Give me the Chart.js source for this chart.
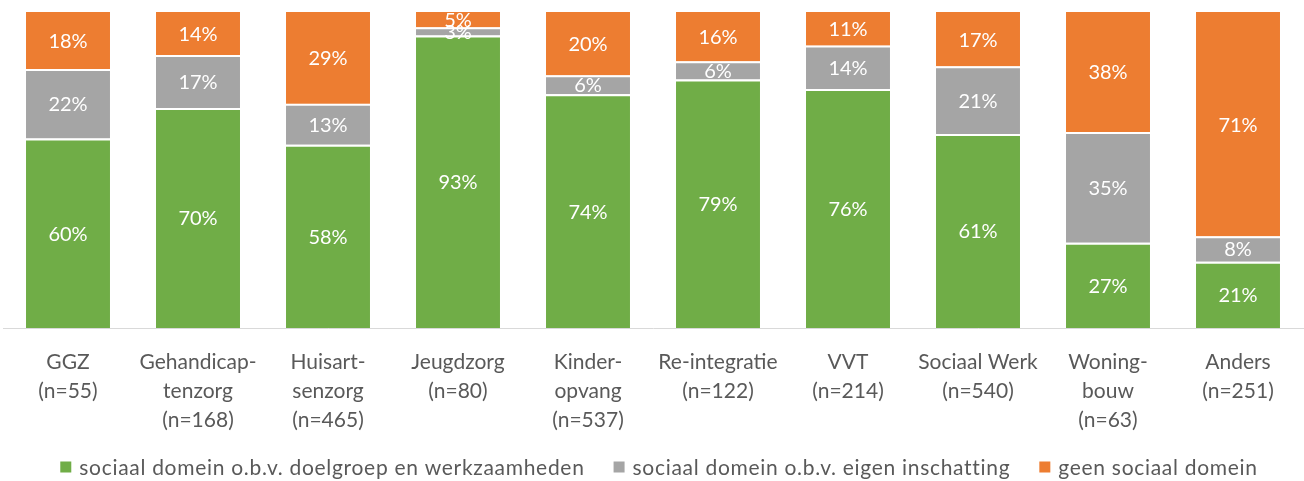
<!DOCTYPE html>
<html>
<head>
<meta charset="utf-8">
<script src="https://cdn.jsdelivr.net/npm/chart.js@4"></script>
<style>
  html, body { margin: 0; padding: 0; background: #fff; }
  #wrap { width: 1304px; height: 481px; }
</style>
</head>
<body>
<div id="wrap"><canvas id="c" width="1304" height="481"></canvas></div>
<script>
const categories = [
  ['GGZ', '(n=55)'],
  ['Gehandicap-', 'tenzorg', '(n=168)'],
  ['Huisart-', 'senzorg', '(n=465)'],
  ['Jeugdzorg', '(n=80)'],
  ['Kinder-', 'opvang', '(n=537)'],
  ['Re-integratie', '(n=122)'],
  ['VVT', '(n=214)'],
  ['Sociaal Werk', '(n=540)'],
  ['Woning-', 'bouw', '(n=63)'],
  ['Anders', '(n=251)']
];
const seriesNames = [
  'sociaal domein o.b.v. doelgroep en werkzaamheden',
  'sociaal domein o.b.v. eigen inschatting',
  'geen sociaal domein'
];
const doelgroep = [60, 69.6, 58, 92.6, 74, 78.6, 75.6, 61.4, 27, 21];
const inschatting = [22, 16.8, 13, 2.6, 6, 5.8, 13.8, 21.4, 35, 8];
const geen = [18, 13.6, 29, 4.8, 20, 15.6, 10.6, 17.2, 38, 71];

const FONT = 'Lato, "Open Sans", sans-serif';
const TEXT = '#595959';

const labelPlugin = {
  id: 'segLabels',
  afterDatasetsDraw(chart) {
    const ctx = chart.ctx;
    ctx.save();
    ctx.font = '20px ' + FONT;
    ctx.fillStyle = '#ffffff';
    ctx.textAlign = 'center';
    ctx.textBaseline = 'middle';
    chart.data.datasets.forEach((ds, di) => {
      const meta = chart.getDatasetMeta(di);
      meta.data.forEach((el, i) => {
        const p = el.getCenterPoint();
        ctx.fillText(Math.round(ds.data[i]) + '%', p.x, p.y + 1);
      });
    });
    ctx.restore();
  }
};

const legendPlugin = {
  id: 'bottomLegend',
  afterDraw(chart) {
    const ctx = chart.ctx;
    ctx.save();
    ctx.font = '21px ' + FONT;
    if ('letterSpacing' in ctx) ctx.letterSpacing = '0.7px';
    ctx.textBaseline = 'middle';
    ctx.textAlign = 'left';
    const box = 11, gapText = 8, gapItem = 29, y = 467;
    const items = chart.data.datasets.map(ds => ({
      text: ds.label, color: ds.backgroundColor, w: ctx.measureText(ds.label).width
    }));
    let total = 0;
    items.forEach((it, i) => { total += box + gapText + it.w + (i < items.length - 1 ? gapItem : 0); });
    let x = 659 - total / 2;
    items.forEach(it => {
      ctx.fillStyle = it.color;
      ctx.fillRect(x, y - box / 2, box, box);
      ctx.fillStyle = TEXT;
      ctx.fillText(it.text, x + box + gapText, y + 1);
      x += box + gapText + it.w + gapItem;
    });
    ctx.restore();
  }
};

new Chart(document.getElementById('c'), {
  type: 'bar',
  data: {
    labels: categories,
    datasets: [
      { label: seriesNames[0], data: doelgroep, backgroundColor: '#70AD47',
        borderColor: '#ffffff', borderWidth: { top: 2, left: 0, right: 0, bottom: 0 }, borderSkipped: false },
      { label: seriesNames[1], data: inschatting, backgroundColor: '#A5A5A5',
        borderColor: '#ffffff', borderWidth: { top: 2, left: 0, right: 0, bottom: 0 }, borderSkipped: false },
      { label: seriesNames[2], data: geen, backgroundColor: '#ED7D31', borderWidth: 0 }
    ]
  },
  options: {
    responsive: false,
    animation: false,
    devicePixelRatio: 1,
    layout: { padding: { top: 12, left: 3, right: 1, bottom: 43 } },
    datasets: { bar: { categoryPercentage: 1, barPercentage: 0.646 } },
    scales: {
      x: {
        stacked: true,
        grid: { display: false, drawTicks: false },
        border: { display: true, color: '#d9d9d9', width: 1 },
        ticks: { color: TEXT, font: { family: FONT, size: 21, lineHeight: 1.38 }, padding: 20, maxRotation: 0, autoSkip: false },
        afterFit: (s) => { s.height = 110; }
      },
      y: {
        stacked: true, display: false, min: 0, max: 100
      }
    },
    plugins: {
      legend: { display: false },
      tooltip: { enabled: false }
    }
  },
  plugins: [labelPlugin, legendPlugin]
});
</script>
</body>
</html>
